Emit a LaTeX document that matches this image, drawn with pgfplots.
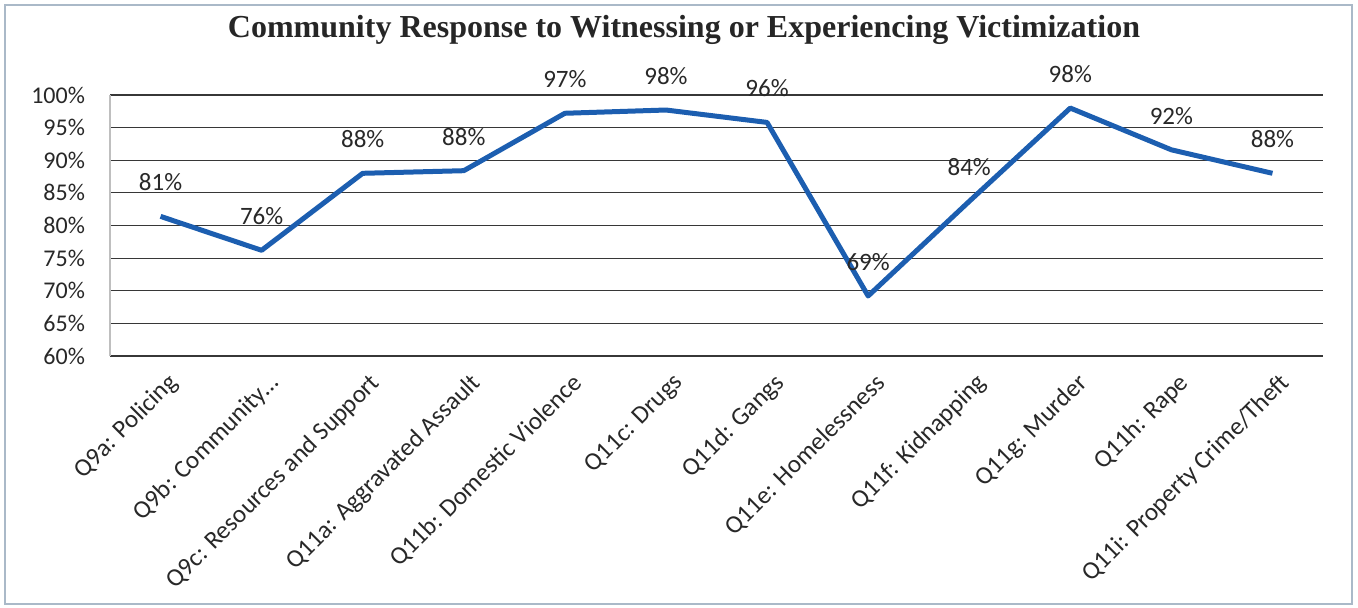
\documentclass[border=0pt]{standalone}
\usepackage{fontspec}
\setmainfont{Carlito}
\newfontfamily\titlefont{Liberation Serif}
\usepackage{pgfplots}
\pgfplotsset{compat=1.18}
\usepackage{pgfplotstable}
\definecolor{lineblue}{RGB}{28,94,176}
\definecolor{gridc}{RGB}{55,55,55}
\definecolor{txt}{RGB}{40,40,40}
\definecolor{frame}{RGB}{170,185,200}
\pgfplotstableread{
x y lab
0 81.4 81
1 76.2 76
2 88.0 88
3 88.4 88
4 97.2 97
5 97.7 98
6 95.8 96
7 69.2 69
8 83.7 84
9 98.0 98
10 91.6 92
11 88.0 88
}\datatable
\begin{document}
\begin{tikzpicture}[x=1pt,y=1pt]
\useasboundingbox (0,0) rectangle (679,303.5);
\draw[line width=1pt, color=frame] (2.5,1.5) rectangle (676,301);
\node[anchor=base, text=black!85, inner sep=0pt] at (342,284.5) {\resizebox{456pt}{!}{\titlefont\bfseries Community Response to Witnessing or Experiencing Victimization}};
\begin{axis}[
  at={(55pt,125.5pt)}, anchor=south west,
  scale only axis, width=606.5pt, height=130.5pt,
  xmin=-0.5, xmax=11.5, ymin=60, ymax=100,
  ytick={60,65,...,100},
  yticklabel={\pgfmathprintnumber{\tick}\%},
  xtick={0,...,11},
  xticklabels={Q9a: Policing, Q9b: Community\ldots, Q9c: Resources and Support, Q11a: Aggravated Assault, Q11b: Domestic Violence, Q11c: Drugs, Q11d: Gangs, Q11e: Homelessness, Q11f: Kidnapping, Q11g: Murder, Q11h: Rape, Q11i: Property Crime/Theft},
  xticklabel style={rotate=45, anchor=east, font=\fontsize{12.6}{14}\selectfont, text=txt, xshift=0pt, yshift=-13pt},
  yticklabel style={font=\fontsize{12}{14}\selectfont, text=txt, xshift=-9pt},
  major tick length=0pt,
  ymajorgrids, grid style={gridc, line width=0.6pt},
  axis x line*=bottom, axis y line*=left,
  x axis line style={gridc, line width=0.6pt, -},
  y axis line style={gray!50, line width=0.6pt, -},
  /pgf/number format/assume math mode=true,
]
\addplot[lineblue, line width=2.5pt, line join=round,
  nodes near coords={\pgfmathprintnumber{\pgfplotspointmeta}\%},
  point meta=explicit,
  every node near coord/.style={anchor=center, yshift=17pt, font=\fontsize{12.5}{14}\selectfont, text=txt}]
  table[x=x, y=y, meta=lab]{\datatable};
\end{axis}
\end{tikzpicture}
\end{document}
